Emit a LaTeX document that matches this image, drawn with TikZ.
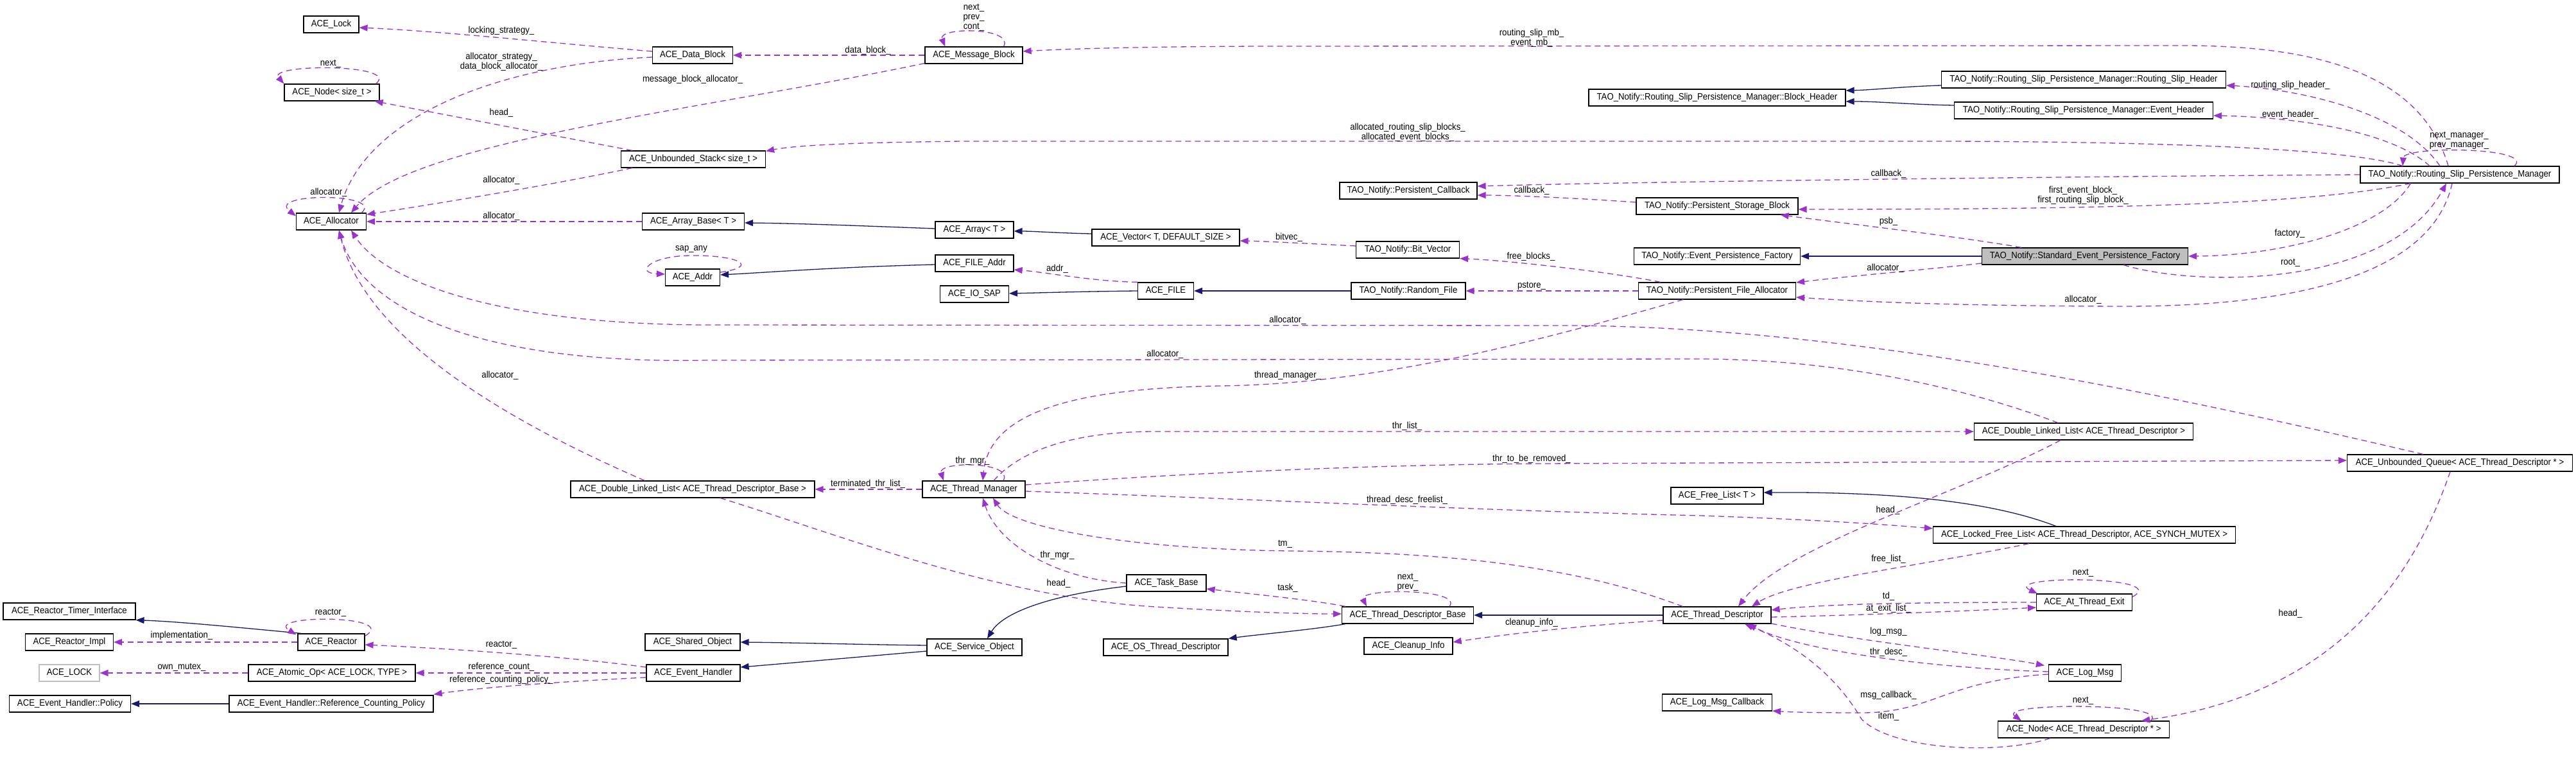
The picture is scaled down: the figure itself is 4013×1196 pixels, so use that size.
\documentclass[tikz,border=0pt]{standalone}
\usepackage{fontspec}
\setmainfont{Liberation Sans}[FakeStretch=0.915]
\usetikzlibrary{arrows.meta,calc}
\definecolor{purp}{HTML}{9A32CD}
\definecolor{navy}{HTML}{191970}
\definecolor{lgray}{HTML}{BFBFBF}
\newcommand\dfont{\fontsize{14.4}{15}\selectfont}
\newcommand\nd[6][]{\node[box,minimum width=#5pt,#1] (#2) at (#3,#4) {#6};}
\tikzset{
 box/.style={draw=black,line width=1.2pt,minimum height=26pt,inner sep=0pt,fill=white,font=\dfont},
 usedge/.style={draw=purp,line width=1.3pt,dash pattern=on 9pt off 6pt,-{Triangle[length=13pt,width=10pt]}},
 inhedge/.style={draw=navy,line width=1.3pt,-{Triangle[length=13pt,width=10pt]}},
 elabel/.style={font=\dfont,inner sep=0pt,align=center}
}
\begin{document}
\begin{tikzpicture}[x=1pt,y=-1pt]
\fill[white] (0,0) rectangle (4013,1196);
\useasboundingbox (0,0) rectangle (4013,1196);
% ---------------- nodes
\nd{n_lock}{516}{38}{86}{ACE\_Lock}
\nd{n_nodesz}{517}{144}{148}{ACE\_Node< size\_t >}
\nd{n_alloc}{516}{345}{109}{ACE\_Allocator}
\nd{n_stack}{1080}{248}{225}{ACE\_Unbounded\_Stack< size\_t >}
\nd{n_arrbase}{1080}{345}{159}{ACE\_Array\_Base< T >}
\nd{n_datablock}{1079}{86}{125}{ACE\_Data\_Block}
\nd{n_msgblock}{1517}{86}{152}{ACE\_Message\_Block}
\nd{n_array}{1518}{358}{122}{ACE\_Array< T >}
\nd{n_vector}{1816}{370}{230}{ACE\_Vector< T, DEFAULT\_SIZE >}
\nd{n_fileaddr}{1518}{410}{122}{ACE\_FILE\_Addr}
\nd{n_addr}{1079}{432}{85}{ACE\_Addr}
\nd{n_iosap}{1518}{458}{107}{ACE\_IO\_SAP}
\nd{n_file}{1816}{453}{87}{ACE\_FILE}
\nd{n_blockhdr}{2675}{152}{400}{TAO\_Notify::Routing\_Slip\_Persistence\_Manager::Block\_Header}
\nd{n_callback}{2194}{297}{214}{TAO\_Notify::Persistent\_Callback}
\nd{n_psb}{2675}{321}{252}{TAO\_Notify::Persistent\_Storage\_Block}
\nd{n_bitvec}{2193}{389}{161}{TAO\_Notify::Bit\_Vector}
\nd{n_epf}{2675}{399}{259}{TAO\_Notify::Event\_Persistence\_Factory}
\nd{n_rshdr}{3246}{124}{443}{TAO\_Notify::Routing\_Slip\_Persistence\_Manager::Routing\_Slip\_Header}
\nd{n_evhdr}{3246}{172}{403}{TAO\_Notify::Routing\_Slip\_Persistence\_Manager::Event\_Header}
\nd{n_mgr}{3832}{272}{310}{TAO\_Notify::Routing\_Slip\_Persistence\_Manager}
\nd[fill=lgray]{n_sepf}{3248}{399}{321}{TAO\_Notify::Standard\_Event\_Persistence\_Factory}
\nd{n_random}{2194}{453}{178}{TAO\_Notify::Random\_File}
\nd{n_pfa}{2675}{453}{245}{TAO\_Notify::Persistent\_File\_Allocator}
\nd{n_dlltdb}{1079}{762}{380}{ACE\_Double\_Linked\_List< ACE\_Thread\_Descriptor\_Base >}
\nd{n_thrmgr}{1517}{762}{160}{ACE\_Thread\_Manager}
\nd{n_freelist}{2675}{772}{144}{ACE\_Free\_List< T >}
\nd{n_dlltd}{3246}{672}{341}{ACE\_Double\_Linked\_List< ACE\_Thread\_Descriptor >}
\nd{n_queue}{3832}{721}{351}{ACE\_Unbounded\_Queue< ACE\_Thread\_Descriptor * >}
\nd{n_rti}{108}{952}{206}{ACE\_Reactor\_Timer\_Interface}
\nd{n_rimpl}{108}{1000}{137}{ACE\_Reactor\_Impl}
\nd{n_reactor}{516}{1000}{104}{ACE\_Reactor}
\nd[draw=lgray]{n_LOCK}{108}{1048}{94}{ACE\_LOCK}
\nd{n_atomic}{517}{1048}{260}{ACE\_Atomic\_Op< ACE\_LOCK, TYPE >}
\nd{n_policy}{109}{1096}{189}{ACE\_Event\_Handler::Policy}
\nd{n_rcp}{516}{1096}{318}{ACE\_Event\_Handler::Reference\_Counting\_Policy}
\nd{n_taskbase}{1817}{908}{124}{ACE\_Task\_Base}
\nd{n_shared}{1079}{1000}{148}{ACE\_Shared\_Object}
\nd{n_service}{1518}{1008}{148}{ACE\_Service\_Object}
\nd{n_evhandler}{1080}{1048}{146}{ACE\_Event\_Handler}
\nd{n_ostd}{1816}{1008}{194}{ACE\_OS\_Thread\_Descriptor}
\nd{n_tdb}{2193}{958}{205}{ACE\_Thread\_Descriptor\_Base}
\nd{n_cleanup}{2194}{1006}{138}{ACE\_Cleanup\_Info}
\nd{n_td}{2675}{958}{168}{ACE\_Thread\_Descriptor}
\nd{n_lmc}{2675}{1094}{171}{ACE\_Log\_Msg\_Callback}
\nd{n_lfl}{3247}{833}{471}{ACE\_Locked\_Free\_List< ACE\_Thread\_Descriptor, ACE\_SYNCH\_MUTEX >}
\nd{n_ate}{3247}{938}{149}{ACE\_At\_Thread\_Exit}
\nd{n_logmsg}{3248}{1048}{113}{ACE\_Log\_Msg}
\nd{n_nodetd}{3246}{1136}{267}{ACE\_Node< ACE\_Thread\_Descriptor * >}
% ---------------- edges
\draw[usedge] ($(n_datablock.west)+(0,-6)$) .. controls (850,66) and (680,48) .. ($(n_lock.east)+(0,5)$);
\draw[usedge] ($(n_datablock.west)+(0,3)$) .. controls (780,100) and (570,180) .. ($(n_alloc.north)+(12,0)$);
\draw[usedge] ($(n_nodesz.north east)+(-6,0)$) .. controls (625,99) and (415,99) .. (n_nodesz.north west);
\draw[usedge] ($(n_stack.north west)+(18,0)$) -- ($(n_nodesz.south east)+(-8,0)$);
\draw[usedge] ($(n_msgblock.south west)+(0,-1)$) .. controls (1100,170) and (640,220) .. ($(n_alloc.north)+(31,0)$);
\draw[usedge] (n_msgblock.west) -- (n_datablock.east);
\draw[usedge] ($(n_msgblock.north east)+(-30,0)$) .. controls (1580,42) and (1460,42) .. ($(n_msgblock.north west)+(32,0)$);
\draw[usedge] ($(n_mgr.north)+(-18,0)$) .. controls (3770,110) and (3600,71) .. (3400,71) -- (2000,72) .. controls (1800,72) and (1660,76) .. ($(n_msgblock.east)+(0,-6)$);
\draw[inhedge] ($(n_rshdr.west)+(0,9)$) .. controls (2960,135) and (2920,140) .. ($(n_blockhdr.east)+(0,-11)$);
\draw[inhedge] ($(n_evhdr.west)+(0,-8)$) .. controls (2980,163) and (2930,158) .. ($(n_blockhdr.east)+(0,6)$);
\draw[usedge] ($(n_mgr.north)+(-31,0)$) .. controls (3740,170) and (3570,138) .. ($(n_rshdr.east)+(0,9)$);
\draw[usedge] ($(n_mgr.north)+(-47,0)$) .. controls (3720,200) and (3560,182) .. ($(n_evhdr.east)+(0,8)$);
\draw[usedge] ($(n_mgr.north)+(-89,0)$) .. controls (3650,228) and (3300,220) .. (3000,220) -- (1500,220) .. controls (1300,222) and (1230,228) .. ($(n_stack.north east)+(0,1)$);
\draw[usedge] ($(n_mgr.north)+(85,0)$) .. controls (3950,229) and (3745,227) .. ($(n_mgr.north)+(-89,0)$);
\draw[usedge] (n_mgr.west) .. controls (3100,276) and (2500,284) .. ($(n_callback.east)+(0,-7)$);
\draw[usedge] ($(n_psb.west)+(0,-6)$) .. controls (2450,308) and (2350,304) .. ($(n_callback.east)+(0,7)$);
\draw[usedge] ($(n_mgr.south west)+(79,0)$) .. controls (3600,318) and (3300,326) .. ($(n_psb.east)+(0,5)$);
\draw[usedge] ($(n_sepf.north west)+(62,0)$) .. controls (3050,368) and (2850,345) .. ($(n_psb.south east)+(-28,0)$);
\draw[inhedge] (n_sepf.west) -- (n_epf.east);
\draw[usedge] ($(n_mgr.south west)+(79,0)$) .. controls (3710,360) and (3550,398) .. (n_sepf.east);
\draw[usedge] ($(n_sepf.south east)+(-101,0)$) .. controls (3420,447) and (3720,450) .. ($(n_mgr.south)+(-21,0)$);
\draw[usedge] ($(n_mgr.south)+(-12,0)$) .. controls (3790,420) and (3600,478) .. (3300,477) .. controls (3000,476) and (2880,468) .. ($(n_pfa.east)+(0,10)$);
\draw[usedge] ($(n_sepf.west)+(0,11)$) .. controls (3000,420) and (2880,430) .. ($(n_pfa.east)+(0,-13)$);
\draw[usedge] ($(n_pfa.north west)+(35,0)$) .. controls (2500,422) and (2340,405) .. (n_bitvec.south east);
\draw[usedge] ($(n_bitvec.west)+(0,-6)$) .. controls (2050,380) and (1980,376) .. ($(n_vector.east)+(0,5)$);
\draw[inhedge] ($(n_vector.west)+(0,-6)$) .. controls (1650,363) and (1610,360) .. ($(n_array.east)+(0,2)$);
\draw[inhedge] ($(n_array.west)+(0,-2)$) .. controls (1350,352) and (1250,348) .. ($(n_arrbase.east)+(0,2)$);
\draw[usedge] (n_arrbase.west) -- (n_alloc.east);
\draw[usedge] ($(n_stack.south west)+(18,0)$) .. controls (850,290) and (650,322) .. ($(n_alloc.east)+(0,-11)$);
\draw[usedge] ($(n_alloc.north east)+(-8,0)$) .. controls (600,300) and (415,300) .. ($(n_alloc.north west)+(0,5)$);
\draw[usedge] ($(n_addr.east)+(0,-8)$) .. controls (1185,415) and (1150,397) .. (1075,398) .. controls (1010,399) and (990,425) .. ($(n_addr.west)+(0,-5)$);
\draw[inhedge] ($(n_fileaddr.west)+(0,2)$) .. controls (1300,416) and (1200,424) .. ($(n_addr.east)+(0,-4)$);
\draw[usedge] (n_file.north west) .. controls (1700,438) and (1630,424) .. ($(n_fileaddr.east)+(0,10)$);
\draw[inhedge] (n_file.west) .. controls (1680,454) and (1620,456) .. ($(n_iosap.east)+(0,-1)$);
\draw[inhedge] (n_random.west) -- (n_file.east);
\draw[usedge] (n_pfa.west) -- (n_random.east);
\draw[usedge] ($(n_queue.north west)+(119,0)$) .. controls (3400,620) and (2900,510) .. (2450,507) -- (1100,506) .. controls (780,505) and (600,440) .. ($(n_alloc.south)+(31,0)$);
\draw[usedge] ($(n_dlltd.north west)+(131,0)$) .. controls (3100,618) and (2900,560) .. (2650,559) -- (1100,561) .. controls (720,568) and (560,470) .. ($(n_alloc.south)+(12,0)$);
\draw[usedge] ($(n_dlltdb.north west)+(116,0)$) .. controls (800,660) and (570,530) .. ($(n_alloc.south)+(12,0)$);
\draw[usedge] ($(n_pfa.south west)+(70,0)$) .. controls (2400,530) and (2150,598) .. (1900,601) .. controls (1650,605) and (1540,650) .. ($(n_thrmgr.north)+(14,0)$);
\draw[usedge] ($(n_thrmgr.north)+(46,0)$) .. controls (1580,718) and (1460,718) .. ($(n_thrmgr.north)+(-47,0)$);
\draw[usedge] ($(n_thrmgr.north)+(31,0)$) .. controls (1600,690) and (1700,672) .. (1800,672) -- (n_dlltd.west);
\draw[usedge] ($(n_thrmgr.east)+(0,-7)$) .. controls (1800,740) and (2100,724) .. (2400,722) -- ($(n_queue.west)+(0,-4)$);
\draw[usedge] ($(n_thrmgr.east)+(0,3)$) .. controls (1900,775) and (2300,795) .. (2650,803) .. controls (2850,810) and (2950,818) .. ($(n_lfl.west)+(0,-10)$);
\draw[usedge] (n_thrmgr.west) -- (n_dlltdb.east);
\draw[usedge] ($(n_dlltdb.south)+(43,0)$) .. controls (1300,830) and (1550,930) .. (1800,945) .. controls (1950,954) and (2040,956) .. ($(n_tdb.west)+(0,-2)$);
\draw[usedge] (n_taskbase.west) .. controls (1650,902) and (1555,850) .. ($(n_thrmgr.south)+(14,0)$);
\draw[usedge] ($(n_td.north west)+(31,0)$) .. controls (2450,880) and (2250,860) .. (2010,858) .. controls (1750,855) and (1575,820) .. ($(n_thrmgr.south)+(30,0)$);
\draw[inhedge] ($(n_taskbase.west)+(0,5)$) .. controls (1650,925) and (1565,950) .. ($(n_service.north)+(20,0)$);
\draw[inhedge] ($(n_service.west)+(0,-3)$) .. controls (1350,1004) and (1250,1001) .. (n_shared.east);
\draw[inhedge] ($(n_service.west)+(0,6)$) .. controls (1350,1022) and (1250,1031) .. ($(n_evhandler.east)+(0,-9)$);
\draw[usedge] ($(n_evhandler.west)+(0,-9)$) .. controls (880,1022) and (700,1010) .. ($(n_reactor.east)+(0,4)$);
\draw[usedge] (n_evhandler.west) -- (n_atomic.east);
\draw[usedge] ($(n_evhandler.west)+(0,7)$) .. controls (900,1060) and (750,1070) .. ($(n_rcp.north east)+(0,-1)$);
\draw[usedge] (n_atomic.west) -- (n_LOCK.east);
\draw[usedge] (n_reactor.west) -- (n_rimpl.east);
\draw[inhedge] ($(n_reactor.north west)+(6,0)$) .. controls (380,978) and (280,968) .. (n_rti.south east);
\draw[usedge] ($(n_reactor.north east)+(0,4)$) .. controls (625,957) and (410,957) .. ($(n_reactor.north west)+(-2,2)$);
\draw[inhedge] (n_rcp.west) -- (n_policy.east);
\draw[usedge] ($(n_tdb.north west)+(6,0)$) .. controls (2050,935) and (1950,925) .. ($(n_taskbase.east)+(0,9)$);
\draw[usedge] ($(n_tdb.north)+(65,0)$) .. controls (2280,916) and (2115,916) .. ($(n_tdb.north)+(-64,0)$);
\draw[inhedge] (n_td.west) -- (n_tdb.east);
\draw[inhedge] ($(n_tdb.south west)+(6,0)$) .. controls (2050,980) and (1960,988) .. (n_ostd.north east);
\draw[usedge] ($(n_td.west)+(0,8)$) .. controls (2450,975) and (2330,990) .. ($(n_cleanup.east)+(0,-6)$);
\draw[usedge] ($(n_lfl.south west)+(150,0)$) .. controls (3000,880) and (2790,905) .. ($(n_td.north)+(54,0)$);
\draw[usedge] ($(n_dlltd.south west)+(135,0)$) .. controls (3050,770) and (2780,850) .. ($(n_td.north)+(33,0)$);
\draw[inhedge] ($(n_lfl.north west)+(192,0)$) .. controls (3100,780) and (2950,766) .. ($(n_freelist.east)+(0,-5)$);
\draw[usedge] (n_ate.west) .. controls (3000,938) and (2850,940) .. ($(n_td.east)+(0,-8)$);
\draw[usedge] ($(n_td.east)+(0,3)$) .. controls (2900,958) and (3100,950) .. ($(n_ate.west)+(0,8)$);
\draw[usedge] ($(n_ate.north east)+(0,5)$) .. controls (3385,896) and (3115,896) .. ($(n_ate.north west)+(2,0)$);
\draw[usedge] ($(n_td.east)+(0,13)$) .. controls (2900,1000) and (3100,1020) .. ($(n_logmsg.north west)+(-6,2)$);
\draw[usedge] ($(n_logmsg.west)+(0,-2)$) .. controls (3000,1040) and (2800,1012) .. ($(n_td.south)+(48,0)$);
\draw[usedge] ($(n_logmsg.west)+(0,2)$) .. controls (3030,1060) and (3010,1110) .. (2900,1110) .. controls (2830,1110) and (2790,1109) .. ($(n_lmc.east)+(0,13)$);
\draw[usedge] ($(n_nodetd.south west)+(82,0)$) .. controls (3120,1175) and (2950,1170) .. (2900,1120) .. controls (2865,1060) and (2810,1010) .. ($(n_td.south)+(43,0)$);
\draw[usedge] ($(n_nodetd.north east)+(-30,0)$) .. controls (3385,1094) and (3110,1094) .. ($(n_nodetd.north west)+(37,0)$);
\draw[usedge] ($(n_queue.south)+(-15,0)$) .. controls (3760,900) and (3640,1080) .. ($(n_nodetd.north east)+(-44,0)$);
% ---------------- labels
\node[elabel] (l01) at (781,48) {locking\_strategy\_};
\node[elabel] (l02) at (781,96) {allocator\_strategy\_\\data\_block\_allocator\_};
\node[elabel] (l03) at (515,99) {next\_};
\node[elabel] (l04) at (781,176) {head\_};
\node[elabel] (l05) at (1079,124) {message\_block\_allocator\_};
\node[elabel] (l06) at (1352,79) {data\_block\_};
\node[elabel] (l07) at (1517,27) {next\_\\prev\_\\cont\_};
\node[elabel] (l08) at (781,281) {allocator\_};
\node[elabel] (l09) at (781,337) {allocator\_};
\node[elabel] (l10) at (512,300) {allocator\_};
\node[elabel] (l11) at (1077,388) {sap\_any};
\node[elabel] (l12) at (2386,59) {routing\_slip\_mb\_\\event\_mb\_};
\node[elabel] (l13) at (2193,206) {allocated\_routing\_slip\_blocks\_\\allocated\_event\_blocks\_};
\node[elabel] (l14) at (2942,271) {callback\_};
\node[elabel] (l15) at (2386,297) {callback\_};
\node[elabel] (l16) at (2942,345) {psb\_};
\node[elabel] (l17) at (2008,370) {bitvec\_};
\node[elabel] (l18) at (2385,400) {free\_blocks\_};
\node[elabel] (l19) at (3568,133) {routing\_slip\_header\_};
\node[elabel] (l20) at (3568,179) {event\_header\_};
\node[elabel] (l21) at (3831,219) {next\_manager\_\\prev\_manager\_};
\node[elabel] (l22) at (3245,304) {first\_event\_block\_\\first\_routing\_slip\_block\_};
\node[elabel] (l23) at (3567,364) {factory\_};
\node[elabel] (l24) at (3568,409) {root\_};
\node[elabel] (l25) at (3245,467) {allocator\_};
\node[elabel] (l26) at (2937,418) {allocator\_};
\node[elabel] (l27) at (2386,445) {pstore\_};
\node[elabel] (l28) at (1647,419) {addr\_};
\node[elabel] (l29) at (2006,499) {allocator\_};
\node[elabel] (l30) at (1815,552) {allocator\_};
\node[elabel] (l31) at (2006,585) {thread\_manager\_};
\node[elabel] (l32) at (779,585) {allocator\_};
\node[elabel] (l33) at (1515,718) {thr\_mgr\_};
\node[elabel] (l34) at (1352,754) {terminated\_thr\_list\_};
\node[elabel] (l35) at (2192,664) {thr\_list\_};
\node[elabel] (l36) at (2386,715) {thr\_to\_be\_removed\_};
\node[elabel] (l37) at (2192,779) {thread\_desc\_freelist\_};
\node[elabel] (l38) at (2941,795) {head\_};
\node[elabel] (l39) at (1647,865) {thr\_mgr\_};
\node[elabel] (l40) at (1649,909) {head\_};
\node[elabel] (l41) at (2002,847) {tm\_};
\node[elabel] (l42) at (2006,916) {task\_};
\node[elabel] (l43) at (2193,907) {next\_\\prev\_};
\node[elabel] (l44) at (2386,970) {cleanup\_info\_};
\node[elabel] (l45) at (2942,871) {free\_list\_};
\node[elabel] (l46) at (2942,929) {td\_};
\node[elabel] (l47) at (2942,948) {at\_exit\_list\_};
\node[elabel] (l48) at (2942,984) {log\_msg\_};
\node[elabel] (l49) at (2942,1016) {thr\_desc\_};
\node[elabel] (l50) at (2942,1083) {msg\_callback\_};
\node[elabel] (l51) at (2942,1116) {item\_};
\node[elabel] (l52) at (3245,892) {next\_};
\node[elabel] (l53) at (3245,1091) {next\_};
\node[elabel] (l54) at (3568,956) {head\_};
\node[elabel] (l55) at (515,954) {reactor\_};
\node[elabel] (l56) at (283,990) {implementation\_};
\node[elabel] (l57) at (781,1004) {reactor\_};
\node[elabel] (l58) at (283,1039) {own\_mutex\_};
\node[elabel] (l59) at (781,1039) {reference\_count\_};
\node[elabel] (l60) at (781,1059) {reference\_counting\_policy\_};
\end{tikzpicture}
\end{document}
